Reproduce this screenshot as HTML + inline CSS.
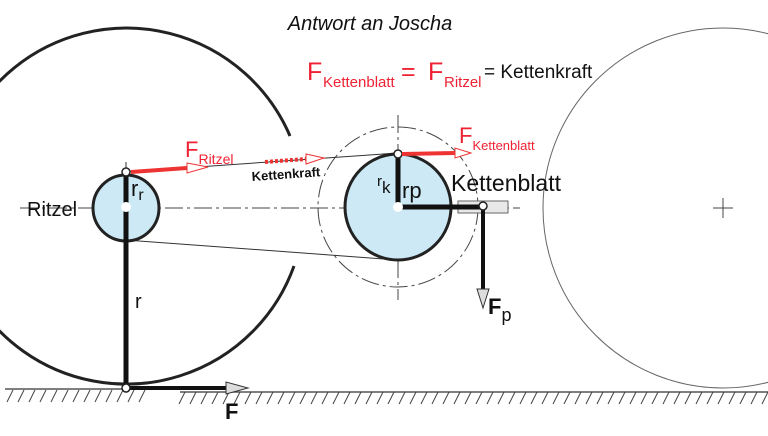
<!DOCTYPE html>
<html><head><meta charset="utf-8"><style>html,body{margin:0;padding:0;background:#fff}svg{display:block}</style></head><body>
<svg width="768" height="436" viewBox="0 0 768 436" xmlns="http://www.w3.org/2000/svg" font-family="Liberation Sans, Arial, sans-serif">
<path d="M 290 136 A 178 178 0 1 0 294 266" fill="none" stroke="#222" stroke-width="3"/>
<circle cx="723" cy="208" r="180" fill="none" stroke="#666" stroke-width="1"/>
<line x1="713" y1="208" x2="733" y2="208" stroke="#444"/><line x1="723" y1="198" x2="723" y2="218" stroke="#444"/>
<line x1="20" y1="208" x2="520" y2="208" stroke="#444" stroke-width="1" stroke-dasharray="18,4,3,4"/>
<circle cx="398" cy="207" r="80" fill="none" stroke="#444" stroke-width="1" stroke-dasharray="18,4,3,4"/>
<line x1="398" y1="115" x2="398" y2="300" stroke="#444" stroke-width="1" stroke-dasharray="18,4,3,4"/>
<line x1="126" y1="172" x2="398" y2="153" stroke="#333" stroke-width="1"/>
<line x1="126" y1="240" x2="398" y2="260" stroke="#333" stroke-width="1"/>
<circle cx="126" cy="208" r="33" fill="#cce9f5" stroke="#222" stroke-width="3"/>
<line x1="126" y1="162" x2="126" y2="172" stroke="#333"/>
<line x1="126" y1="174" x2="126" y2="388" stroke="#111" stroke-width="5"/>
<circle cx="126" cy="207" r="5" fill="#fff"/>
<circle cx="126" cy="172" r="4" fill="#fff" stroke="#222" stroke-width="1.5"/>
<circle cx="398" cy="207" r="53" fill="#cce9f5" stroke="#222" stroke-width="3"/>
<line x1="398" y1="207" x2="398" y2="155" stroke="#111" stroke-width="5"/>
<rect x="458" y="201" width="50" height="12" fill="#e8e8e8" stroke="#666" stroke-width="1"/>
<line x1="398" y1="207" x2="483" y2="207" stroke="#111" stroke-width="5"/>
<circle cx="398" cy="207" r="5" fill="#fff"/>
<circle cx="398" cy="154" r="4" fill="#fff" stroke="#222" stroke-width="1.5"/>
<line x1="483" y1="207" x2="483" y2="290" stroke="#111" stroke-width="4"/>
<polygon points="477,289 489,289 483,308" fill="#ddd" stroke="#333"/>
<circle cx="483" cy="206" r="4" fill="#fff" stroke="#222" stroke-width="1.5"/>
<line x1="131" y1="172" x2="187" y2="168" stroke="#ee3333" stroke-width="4"/>
<polygon points="187,163 187,173 208,167" fill="#fff" stroke="#ee3333"/>
<line x1="265" y1="162" x2="306" y2="159" stroke="#ee3333" stroke-width="4" stroke-dasharray="3,2"/>
<polygon points="306,154 306,164 324,158" fill="#fff" stroke="#ee3333"/>
<line x1="402" y1="154" x2="455" y2="153" stroke="#ee3333" stroke-width="4"/>
<polygon points="455,148 455,158 471,153" fill="#fff" stroke="#ee3333"/>
<line x1="5" y1="389" x2="148" y2="389" stroke="#555" stroke-width="1.5"/>
<line x1="180" y1="392" x2="768" y2="392" stroke="#555" stroke-width="1.5"/>
<g stroke="#444" stroke-width="1">
<path d="M7 402l6-12M18 402l6-12M29 402l6-12M40 402l6-12M51 402l6-12M62 402l6-12M73 402l6-12M84 402l6-12M95 402l6-12M106 402l6-12M117 402l6-12M128 402l6-12M139 402l6-12"/>
<path d="M179 404l6-12M190 404l6-12M201 404l6-12M212 404l6-12M223 404l6-12M234 404l6-12M245 404l6-12M256 404l6-12M267 404l6-12M278 404l6-12M289 404l6-12M300 404l6-12M311 404l6-12M322 404l6-12M333 404l6-12M344 404l6-12M355 404l6-12M366 404l6-12M377 404l6-12M388 404l6-12M399 404l6-12M410 404l6-12M421 404l6-12M432 404l6-12M443 404l6-12M454 404l6-12M465 404l6-12M476 404l6-12M487 404l6-12M498 404l6-12M509 404l6-12M520 404l6-12M531 404l6-12M542 404l6-12M553 404l6-12M564 404l6-12M575 404l6-12M586 404l6-12M597 404l6-12M608 404l6-12M619 404l6-12M630 404l6-12M641 404l6-12M652 404l6-12M663 404l6-12M674 404l6-12M685 404l6-12M696 404l6-12M707 404l6-12M718 404l6-12M729 404l6-12M740 404l6-12M751 404l6-12M762 404l6-12"/>
</g>
<line x1="126" y1="388" x2="228" y2="388" stroke="#111" stroke-width="4"/>
<polygon points="226,382 226,394 248,388" fill="#ddd" stroke="#333"/>
<circle cx="126" cy="388" r="4" fill="#fff" stroke="#222" stroke-width="1.5"/>
<text x="370" y="30" font-size="20" font-style="italic" text-anchor="middle" fill="#111">Antwort an Joscha</text>
<g fill="#ee2233">
<text x="307" y="80" font-size="25">F</text>
<text x="323" y="87" font-size="15">Kettenblatt</text>
<text x="401" y="80" font-size="25">=</text>
<text x="428" y="80" font-size="25">F</text>
<text x="444" y="87" font-size="15">Ritzel</text>
</g>
<text x="484" y="78" font-size="19" fill="#111">= Kettenkraft</text>
<text x="185" y="157" font-size="22" fill="#ee2233">F<tspan font-size="14" dy="7">Ritzel</tspan></text>
<text x="252" y="181" font-size="13" font-weight="bold" fill="#111" transform="rotate(-4 252 181)">Kettenkraft</text>
<text x="459" y="143" font-size="22" fill="#ee2233">F<tspan font-size="13" dy="7">Kettenblatt</tspan></text>
<text x="27" y="216" font-size="20" fill="#111">Ritzel</text>
<text x="131" y="196" font-size="22" fill="#111">r<tspan font-size="16" dy="4">r</tspan></text>
<text x="135" y="308" font-size="20" fill="#111">r</text>
<text x="377" y="186" font-size="15" fill="#111">r<tspan font-size="17" dy="7">k</tspan></text>
<text x="402" y="198" font-size="22" fill="#111">r<tspan dy="0">p</tspan></text>
<text x="451" y="191" font-size="23" fill="#111">Kettenblatt</text>
<text x="488" y="314" font-size="22" font-weight="bold" fill="#111">F<tspan font-size="18" font-weight="normal" dy="7">p</tspan></text>
<text x="225" y="419" font-size="22" font-weight="bold" fill="#111">F</text>
</svg>
</body></html>
